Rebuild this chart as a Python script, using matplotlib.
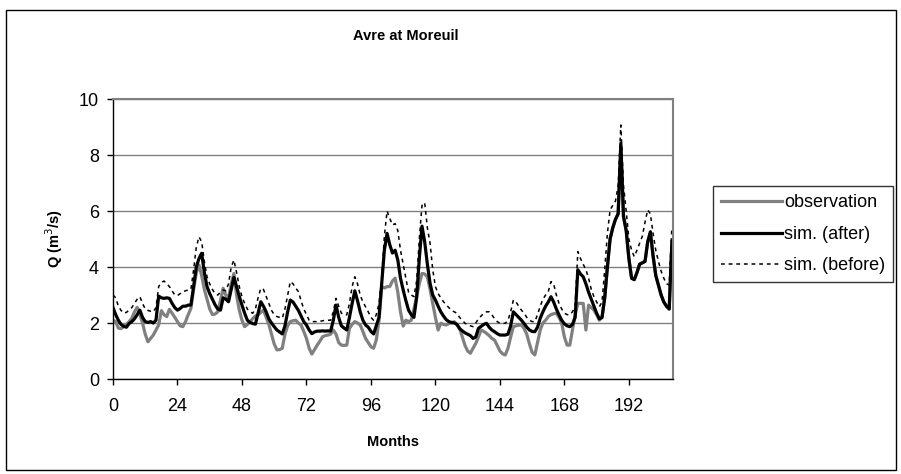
import numpy as np
import matplotlib.pyplot as plt
from matplotlib.patches import Rectangle

plt.rcParams['font.family'] = ['Liberation Sans', 'DejaVu Sans']

# monthly discharge (m3/s), months 0..208
observation = [
    2.1, 2.05, 1.82, 1.8, 1.87, 1.95, 2.05, 2.17, 2.4, 2.56,
    2.3, 2.0, 1.6, 1.33, 1.45, 1.57, 1.75, 1.93, 2.44, 2.3,
    2.23, 2.49, 2.35, 2.2, 2.05, 1.9, 1.87, 2.05, 2.3, 2.52,
    3.2, 3.8, 4.07, 3.7, 3.2, 2.85, 2.5, 2.3, 2.32, 2.4,
    2.8, 3.24, 3.0, 2.88, 3.4, 3.77, 3.0, 2.46, 2.1, 1.87,
    1.95, 2.05, 2.15, 2.25, 2.29, 2.38, 2.46, 2.2, 1.95, 1.6,
    1.25, 1.04, 1.05, 1.1, 1.6, 1.9, 2.05, 2.08, 2.1, 2.0,
    1.93, 1.7, 1.45, 1.1, 0.89, 1.05, 1.21, 1.35, 1.51, 1.55,
    1.57, 1.6, 1.75, 1.6, 1.3, 1.21, 1.2, 1.21, 1.81, 1.95,
    2.05, 2.0, 1.93, 1.7, 1.45, 1.3, 1.15, 1.1, 1.4, 2.1,
    3.3, 3.25, 3.3, 3.3, 3.5, 3.6, 3.1, 2.4, 1.89, 2.1,
    2.05, 2.1, 2.5, 2.94, 3.4, 3.77, 3.75, 3.65, 3.2, 2.7,
    2.2, 1.75, 1.99, 1.95, 1.93, 1.98, 2.0, 2.05, 1.95, 1.81,
    1.5, 1.2, 1.0, 0.92, 1.1, 1.27, 1.5, 1.75, 1.7, 1.63,
    1.55, 1.45, 1.39, 1.2, 1.0, 0.9, 0.86, 1.1, 1.5, 1.87,
    1.9, 1.92, 1.93, 1.8, 1.6, 1.25, 0.95, 0.86, 1.3, 1.75,
    2.0, 2.1, 2.23, 2.3, 2.33, 2.35, 2.2, 1.99, 1.5, 1.21,
    1.21, 1.75, 2.3, 2.7, 2.7, 2.7, 1.75, 2.64, 2.55, 2.46,
    2.3, 2.1, 2.2, 2.9, 4.0, 5.0, 5.4, 5.7, 5.9, 8.3,
    5.8, 5.3, 4.3, 3.6, 3.55, 3.8, 4.1, 4.15, 4.2, 4.9,
    5.2, 4.4, 3.7, 3.35, 3.0, 2.75, 2.6, 2.5, 4.8,
]

sim_after = [
    2.55, 2.3, 2.1, 1.95, 1.88, 1.85, 1.98, 2.05, 2.15, 2.3,
    2.46, 2.2, 2.05, 2.02, 2.05, 2.0, 2.1, 2.96, 2.9, 2.88,
    2.9, 2.88, 2.7, 2.55, 2.46, 2.52, 2.6, 2.6, 2.64, 2.64,
    3.3, 4.0, 4.3, 4.49, 3.8, 3.3, 3.05, 2.85, 2.65, 2.5,
    2.46, 2.9, 2.85, 2.76, 3.2, 3.63, 3.3, 2.95, 2.64, 2.35,
    2.1, 2.02, 1.98, 1.96, 2.35, 2.76, 2.6, 2.4, 2.15, 2.0,
    1.87, 1.75, 1.68, 1.61, 1.9, 2.4, 2.82, 2.75, 2.6, 2.45,
    2.25, 2.05, 1.93, 1.75, 1.62, 1.68, 1.71, 1.71, 1.72, 1.71,
    1.72, 1.71, 2.1, 2.64, 2.2, 1.9, 1.82, 1.75, 2.2, 2.7,
    3.15, 2.8, 2.4, 2.1, 1.93, 1.85, 1.7, 1.61, 1.9, 2.2,
    3.4, 4.6, 5.2, 4.8, 4.5, 4.6, 4.25, 3.6, 3.18, 2.8,
    2.46, 2.3, 2.2, 2.9, 4.3, 5.46, 4.9, 4.1, 3.42, 3.0,
    2.82, 2.6, 2.4, 2.25, 2.12, 2.05, 2.02, 2.0, 1.95, 1.8,
    1.72, 1.65, 1.6, 1.55, 1.45, 1.5, 1.81, 1.88, 1.95, 1.99,
    1.85, 1.75, 1.69, 1.62, 1.57, 1.57, 1.57, 1.6, 1.9, 2.4,
    2.3, 2.2, 2.1, 1.98, 1.85, 1.75, 1.7, 1.69, 1.85, 2.17,
    2.4, 2.6, 2.75, 2.94, 2.75, 2.5, 2.29, 2.1, 1.97, 1.9,
    1.87, 1.95, 2.2, 3.9, 3.75, 3.65, 3.4, 3.1, 2.85, 2.6,
    2.35, 2.15, 2.2, 2.9, 4.0, 5.0, 5.4, 5.7, 5.9, 8.42,
    5.8, 5.3, 4.3, 3.6, 3.55, 3.8, 4.1, 4.15, 4.2, 4.9,
    5.26, 4.4, 3.7, 3.35, 3.0, 2.75, 2.6, 2.5, 4.9,
]

sim_before = [
    3.0, 2.9, 2.6, 2.45, 2.35, 2.38, 2.46, 2.55, 2.7, 2.85,
    2.94, 2.7, 2.5, 2.45, 2.42, 2.4, 2.55, 3.3, 3.45, 3.5,
    3.4, 3.3, 3.15, 3.0, 2.98, 3.05, 3.12, 3.15, 3.18, 3.2,
    3.9, 4.7, 5.08, 4.9, 4.2, 3.65, 3.4, 3.2, 3.05, 3.0,
    3.1, 3.18, 3.15, 3.4, 4.0, 4.25, 3.8, 3.3, 2.94, 2.7,
    2.5, 2.4, 2.35, 2.5, 2.9, 3.24, 3.2, 2.95, 2.7, 2.45,
    2.3, 2.23, 2.2, 2.17, 2.5, 3.0, 3.48, 3.4, 3.25, 3.12,
    2.8, 2.5, 2.3, 2.1, 2.05, 2.05, 2.05, 2.06, 2.08, 2.1,
    2.1, 2.1, 2.4, 2.88, 2.6, 2.35, 2.3, 2.29, 2.7, 3.3,
    3.65, 3.4, 3.0, 2.75, 2.58, 2.4, 2.2, 2.1, 2.3, 2.7,
    3.6, 5.1, 6.0, 5.74, 5.5, 5.55, 5.3, 4.6, 4.1, 3.6,
    3.1, 3.0, 2.94, 3.5, 5.0, 6.2, 6.3, 5.4, 4.85, 3.9,
    3.3, 3.05, 2.9, 2.76, 2.65, 2.55, 2.45, 2.4, 2.35, 2.2,
    2.1, 1.99, 1.95, 1.9, 1.87, 2.0, 2.15, 2.25, 2.35, 2.4,
    2.4, 2.3, 2.15, 2.05, 1.99, 1.99, 1.99, 2.1, 2.4, 2.82,
    2.75, 2.6, 2.46, 2.35, 2.2, 2.1, 2.05, 2.05, 2.3, 2.6,
    2.85, 3.0, 3.12, 3.48, 3.4, 3.0, 2.7, 2.5, 2.35, 2.3,
    2.29, 2.4, 2.6, 4.55, 4.3, 4.1, 3.9, 3.6, 3.2, 2.94,
    2.75, 2.58, 2.75, 3.9, 5.2, 6.04, 6.2, 6.35, 6.9, 9.07,
    6.9, 6.0, 5.0, 4.6, 4.37, 4.6, 4.85, 5.1, 5.6, 6.04,
    5.9, 5.2, 4.6, 4.2, 3.85, 3.6, 3.4, 3.36, 5.44,
]

months = np.arange(len(sim_after))
x_ticks = [0, 24, 48, 72, 96, 120, 144, 168, 192]
y_ticks = [0, 2, 4, 6, 8, 10]

fig = plt.figure(figsize=(9.01, 4.74), dpi=100)
fig.patches.append(Rectangle((0.007, 0.008), 0.987, 0.97, transform=fig.transFigure,
                             fill=False, edgecolor='black', linewidth=1.0))

ax = fig.add_axes([0.1254, 0.2004, 0.6215, 0.5907])
ax.plot(months, observation, color='#808080', linewidth=2.3, label='observation')
ax.plot(months, sim_after, color='black', linewidth=2.3, label='sim. (after)')
ax.plot(months, sim_before, color='black', linewidth=1.1, linestyle=(0, (2.5, 2.5)),
        label='sim. (before)')

ax.set_xlim(0, 208.4)
ax.set_ylim(0, 10)
ax.set_xticks(x_ticks)
ax.set_yticks(y_ticks)
ax.grid(axis='y', color='#808080', linewidth=1.0)
ax.set_axisbelow(True)
ax.tick_params(direction='out', length=4, width=1, labelsize=13, pad=6)
ax.tick_params(axis='x', pad=10)
for s in ['left', 'bottom']:
    ax.spines[s].set_color('black')
    ax.spines[s].set_linewidth(1.0)
for s in ['right', 'top']:
    ax.spines[s].set_color('#808080')
    ax.spines[s].set_linewidth(1.5)

ax.set_xlabel('Months', fontsize=10.5, fontweight='bold', labelpad=14)
ax.set_ylabel('Q (m$^3$/s)', fontsize=10.5, fontweight='bold', labelpad=10)
fig.text(0.45, 0.925, 'Avre at Moreuil', ha='center', va='center',
         fontsize=10.5, fontweight='bold')

leg = fig.legend(loc='upper left', bbox_to_anchor=(0.791, 0.607), fontsize=13,
                 frameon=True, fancybox=False, handlelength=3.4, handletextpad=0.1,
                 borderpad=0.45, labelspacing=0.8, borderaxespad=0)
leg.get_frame().set_edgecolor('black')
leg.get_frame().set_linewidth(1.0)

fig.savefig('out.png', dpi=100)
